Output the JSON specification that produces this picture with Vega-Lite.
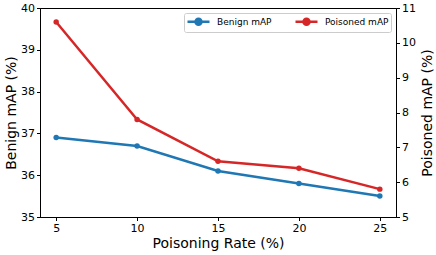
{
  "$schema": "https://vega.github.io/schema/vega-lite/v6.json",
  "width": 356,
  "height": 209,
  "autosize": {"type": "none"},
  "padding": {"left": 40, "top": 8, "right": 40, "bottom": 38},
  "config": {
    "font": "DejaVu Sans",
    "view": {"stroke": "black", "strokeWidth": 1},
    "axis": {
      "grid": false,
      "domainColor": "black",
      "tickColor": "black",
      "labelColor": "black",
      "titleColor": "black",
      "labelFontSize": 11,
      "titleFontSize": 14,
      "titleFontWeight": "normal",
      "tickSize": 3.5,
      "labelPadding": 2,
      "domainWidth": 1
    }
  },
  "data": {
    "values": [
      {"rate": 5, "series": "Benign mAP", "value": 36.9},
      {"rate": 10, "series": "Benign mAP", "value": 36.7},
      {"rate": 15, "series": "Benign mAP", "value": 36.1},
      {"rate": 20, "series": "Benign mAP", "value": 35.8},
      {"rate": 25, "series": "Benign mAP", "value": 35.5},
      {"rate": 5, "series": "Poisoned mAP", "value": 10.6},
      {"rate": 10, "series": "Poisoned mAP", "value": 7.8},
      {"rate": 15, "series": "Poisoned mAP", "value": 6.6},
      {"rate": 20, "series": "Poisoned mAP", "value": 6.4},
      {"rate": 25, "series": "Poisoned mAP", "value": 5.8}
    ]
  },
  "encoding": {
    "x": {
      "field": "rate",
      "type": "quantitative",
      "scale": {"domain": [4, 26], "nice": false, "zero": false},
      "axis": {"values": [5, 10, 15, 20, 25], "title": "Poisoning Rate (%)", "labelFlush": false, "titlePadding": 3}
    },
    "color": {
      "field": "series",
      "type": "nominal",
      "scale": {"domain": ["Benign mAP", "Poisoned mAP"], "range": ["#1f77b4", "#d62728"]},
      "legend": {
        "title": null,
        "orient": "top-right",
        "direction": "horizontal",
        "offset": 5,
        "padding": 2,
        "fillColor": "white",
        "strokeColor": "#cccccc",
        "cornerRadius": 2,
        "labelFontSize": 9,
        "labelColor": "black",
        "symbolType": "M-2.2,0H2.2M-0.6,0A0.6,0.6,0,1,0,0.6,0A0.6,0.6,0,1,0,-0.6,0Z",
        "symbolSize": 100,
        "symbolStrokeWidth": 2.5,
        "symbolOffset": 6,
        "labelOffset": 12,
        "columnPadding": 18,
        "encode": {"symbols": {"update": {"fill": {"scale": "color", "field": "value"}}}}
      }
    }
  },
  "layer": [
    {
      "transform": [{"filter": "datum.series === 'Benign mAP'"}],
      "mark": {"type": "line", "strokeWidth": 2.5, "point": {"filled": true, "size": 30}},
      "encoding": {
        "y": {
          "field": "value",
          "type": "quantitative",
          "scale": {"domain": [35, 40], "nice": false, "zero": false},
          "axis": {"title": "Benign mAP (%)", "values": [35, 36, 37, 38, 39, 40], "orient": "left", "titlePadding": 2}
        }
      }
    },
    {
      "transform": [{"filter": "datum.series === 'Poisoned mAP'"}],
      "mark": {"type": "line", "strokeWidth": 2.5, "point": {"filled": true, "size": 30}},
      "encoding": {
        "y": {
          "field": "value",
          "type": "quantitative",
          "scale": {"domain": [5, 11], "nice": false, "zero": false},
          "axis": {"title": "Poisoned mAP (%)", "values": [5, 6, 7, 8, 9, 10, 11], "orient": "right", "titleAngle": 270, "titleBaseline": "top", "titlePadding": 5}
        }
      }
    }
  ],
  "resolve": {"scale": {"y": "independent"}}
}
